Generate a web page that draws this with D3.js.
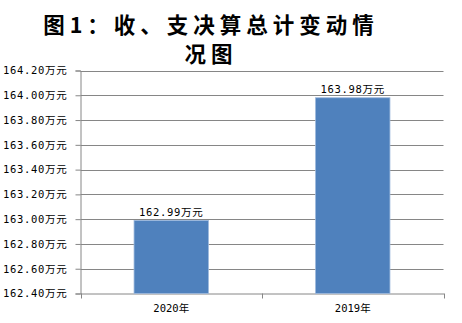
<!DOCTYPE html>
<html>
<head>
<meta charset="utf-8">
<script src="https://cdn.jsdelivr.net/npm/d3@7"></script>
<style>
  body { margin: 0; background: #fff; }
  svg { display: block; }
</style>
</head>
<body>
<div id="chart"></div>
<script>
// data
var categories = ["2020年", "2019年"]
var values = [162.99, 163.98]
var valueLabels = ["162.99万元", "163.98万元"]
var yTicks = [162.4, 162.6, 162.8, 163.0, 163.2, 163.4, 163.6, 163.8, 164.0, 164.2]
var titleLines = ["图1：收、支决算总计变动情", "况图"]

var width = 462
var height = 323
var plotLeft = 80.5, plotRight = 443.5, plotTop = 70.5, plotBottom = 293.5

var svg = d3.select('#chart').append('svg')
            .attr('width', width)
            .attr('height', height)

var x = d3.scaleBand()
          .domain(categories)
          .range([plotLeft, plotRight])
          .paddingInner(0.59)
          .paddingOuter(0.295)

var y = d3.scaleLinear()
          .domain([162.4, 164.2])
          .range([plotBottom, plotTop])

var labelFont = '"DejaVu Sans Mono", "Noto Sans CJK SC", monospace'

// title, two lines
svg.append('g')
  .selectAll('text')
  .data(titleLines)
  .enter().append('text')
  .attr('text-anchor', 'middle')
  .attr('x', 211)
  .attr('y', function(d, i) { return 33 + i * 29 })
  .style('font-family', '"Noto Sans CJK SC", sans-serif')
  .style('font-weight', 'bold')
  .style('font-size', '21.5px')
  .style('letter-spacing', '5px')
  .attr('fill', '#000')
  .text(function(d) { return d })

// gridlines
svg.append('g')
  .selectAll('line')
  .data(yTicks.slice(1))
  .enter().append('line')
  .attr('x1', plotLeft)
  .attr('x2', plotRight)
  .attr('y1', function(d) { return Math.round(y(d)) + 0.5 })
  .attr('y2', function(d) { return Math.round(y(d)) + 0.5 })
  .attr('stroke', '#868686')
  .attr('stroke-width', 1)

// y axis
var yAxis = d3.axisLeft(y)
              .tickValues(yTicks)
              .tickSize(5)
              .tickPadding(8)
              .tickFormat(function(d) { return d3.format('.2f')(d) + '万元' })

var gy = svg.append('g')
  .attr('transform', 'translate(' + plotLeft + ',0)')
  .call(yAxis)
gy.select('.domain').attr('stroke', '#868686')
gy.selectAll('.tick line').attr('stroke', '#868686')
gy.selectAll('.tick text')
  .style('font-family', labelFont)
  .style('font-size', '10.5px')
  .style('letter-spacing', '0.7px')
  .attr('fill', '#000')

// x axis
var xAxis = d3.axisBottom(x).tickSize(0).tickPadding(11)
var gx = svg.append('g')
  .attr('transform', 'translate(0,' + plotBottom + ')')
  .call(xAxis)
gx.select('.domain').attr('stroke', '#868686')
gx.selectAll('.tick text')
  .style('font-family', labelFont)
  .style('font-size', '10.5px')
  .attr('fill', '#000')

// bottom ticks at band boundaries
svg.append('g')
  .selectAll('line')
  .data([plotLeft, (plotLeft + plotRight) / 2, plotRight])
  .enter().append('line')
  .attr('x1', function(d) { return Math.round(d) + 0.5 })
  .attr('x2', function(d) { return Math.round(d) + 0.5 })
  .attr('y1', plotBottom)
  .attr('y2', plotBottom + 5)
  .attr('stroke', '#868686')

// bars
svg.append('g')
  .selectAll('rect')
  .data(values)
  .enter().append('rect')
  .attr('x', function(d, i) { return x(categories[i]) })
  .attr('y', function(d) { return y(d) })
  .attr('width', x.bandwidth())
  .attr('height', function(d) { return plotBottom - y(d) })
  .attr('fill', '#4F81BD')
  .attr('stroke', '#9DB9DD')
  .attr('stroke-width', 0.8)

// value labels
svg.append('g')
  .selectAll('text')
  .data(values)
  .enter().append('text')
  .attr('text-anchor', 'middle')
  .attr('x', function(d, i) { return x(categories[i]) + x.bandwidth() / 2 })
  .attr('y', function(d) { return y(d) - 4.5 })
  .style('font-family', labelFont)
  .style('font-size', '10.5px')
  .style('letter-spacing', '0.7px')
  .attr('fill', '#000')
  .text(function(d, i) { return valueLabels[i] })
</script>
</body>
</html>
